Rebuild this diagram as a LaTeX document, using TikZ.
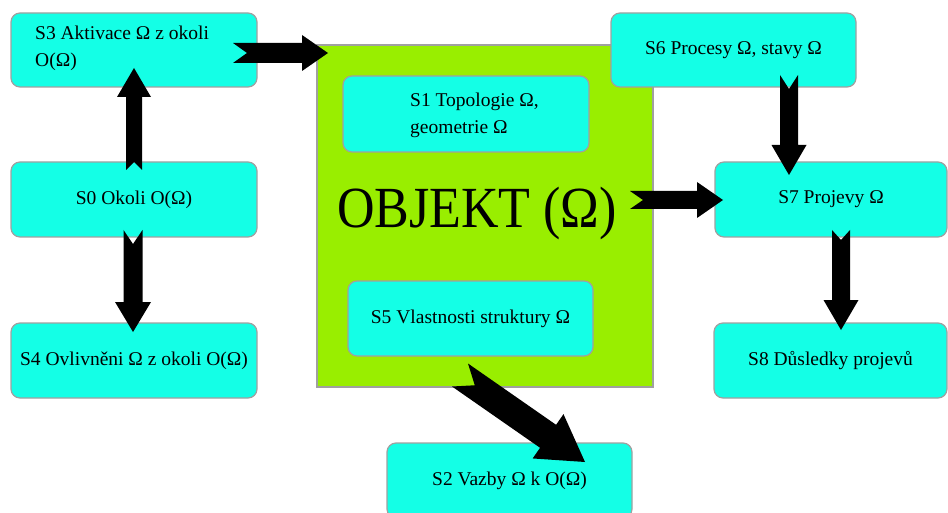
\documentclass[tikz,border=0pt]{standalone}
\usepackage{fontspec}
\setmainfont{Liberation Serif}
\usetikzlibrary{calc}
\definecolor{boxcyan}{HTML}{14FFE6}
\definecolor{objgreen}{HTML}{99EE00}
\definecolor{edgegrey}{HTML}{A0A0A0}
\tikzset{
  sbox/.style={draw=edgegrey, line width=1.2pt, fill=boxcyan, rounded corners=9pt,
    inner sep=0pt, font=\fontsize{19.5}{27}\selectfont},
  stext/.style={inner sep=0pt, align=left, font=\fontsize{19.5}{27}\selectfont},
  objbox/.style={draw=edgegrey, line width=1.5pt, fill=objgreen, inner sep=0pt}
}
% #1 tail, #2 tip, #3 half shaft, #4 half head, #5 head length, #6 notch depth
\newcommand\blockarr[6]{%
  \coordinate (ba-hb) at ($(#2)!#5!(#1)$);
  \coordinate (ba-n) at ($(#1)!#6!(#2)$);
  \fill[black] ($(#1)!#3!90:(#2)$) -- ($(ba-hb)!#3!90:(#2)$) -- ($(ba-hb)!#4!90:(#2)$)
    -- (#2) -- ($(ba-hb)!#4!-90:(#2)$) -- ($(ba-hb)!#3!-90:(#2)$)
    -- ($(#1)!#3!-90:(#2)$) -- (ba-n) -- cycle;
}
\begin{document}
\begin{tikzpicture}[x=1pt,y=-1pt]
\useasboundingbox (0,0) rectangle (948,513);
\clip (0,0) rectangle (948,513);
% object box
\node[objbox, minimum width=336pt, minimum height=342pt] (obj) at (485,216) {};
\node[inner sep=0pt, font=\fontsize{52}{60}\selectfont] (objt) at (477,213) {\scalebox{1}[1.12]{OBJEKT (Ω)}};
% boxes
\node[sbox, minimum width=246pt, minimum height=74pt] (s3) at (134,50) {};
\node[stext, anchor=west] (s3t) at (35,48) {S3 Aktivace Ω z okoli\\O(Ω)};
\node[sbox, minimum width=246pt, minimum height=75pt] (s0) at (134,199.5) {S0 Okoli O(Ω)};
\node[sbox, minimum width=246pt, minimum height=75pt] (s4) at (134,360.5) {S4 Ovlivněni Ω z okoli O(Ω)};
\node[sbox, minimum width=246pt, minimum height=76pt] (s1) at (466,114) {};
\node[stext, anchor=west] (s1t) at (410,115) {S1 Topologie Ω,\\geometrie Ω};
\node[sbox, minimum width=245pt, minimum height=75pt] (s5) at (470.5,318.5) {S5 Vlastnosti struktury Ω};
\node[sbox, minimum width=245pt, minimum height=74pt] (s6) at (733.5,50) {S6 Procesy Ω, stavy Ω};
\node[sbox, minimum width=232pt, minimum height=75pt] (s7) at (831,199.5) {S7 Projevy Ω};
\node[sbox, minimum width=233pt, minimum height=75pt] (s8) at (830.5,360.5) {S8 Důsledky projevů};
\node[sbox, minimum width=245pt, minimum height=75pt] (s2) at (509.5,480.5) {S2 Vazby Ω k O(Ω)};
% arrow end points
\coordinate (a1t) at (233,53);  \coordinate (a1h) at (328,53);
\coordinate (a2t) at (134,170); \coordinate (a2h) at (134,68);
\coordinate (a3t) at (133,230); \coordinate (a3h) at (133,332);
\coordinate (a4t) at (460,375); \coordinate (a4h) at (585,462);
\coordinate (a5t) at (789,75);  \coordinate (a5h) at (789,175);
\coordinate (a6t) at (630,200); \coordinate (a6h) at (723,200);
\coordinate (a7t) at (841,230); \coordinate (a7h) at (841,330);
% arrows
\blockarr{a1t}{a1h}{10pt}{18pt}{26pt}{14pt}
\blockarr{a2t}{a2h}{8pt}{17pt}{29pt}{8pt}
\blockarr{a3t}{a3h}{9.5pt}{18pt}{30pt}{14pt}
\blockarr{a4t}{a4h}{14pt}{27pt}{45pt}{18pt}
\blockarr{a5t}{a5h}{9pt}{17.5pt}{30pt}{14pt}
\blockarr{a6t}{a6h}{9pt}{18pt}{26pt}{13pt}
\blockarr{a7t}{a7h}{9pt}{17.5pt}{30pt}{10pt}
\end{tikzpicture}
\end{document}
